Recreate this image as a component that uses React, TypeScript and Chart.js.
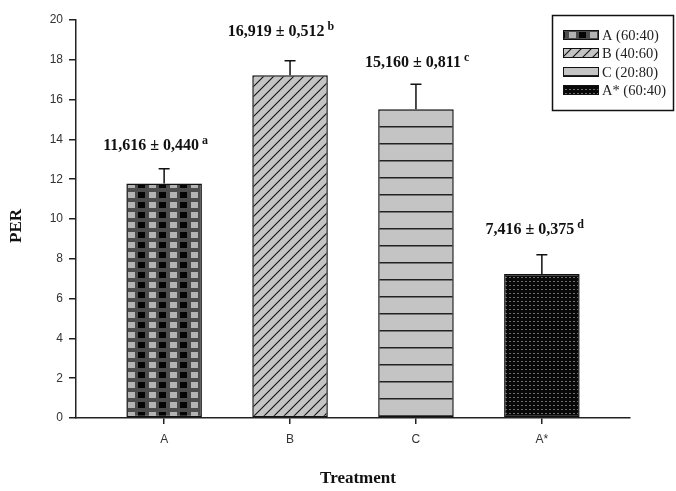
import React, { useEffect, useRef } from 'react';
import { Chart, registerables } from 'chart.js';

Chart.register(...registerables);

// ---- data ----
const categories = ['A', 'B', 'C', 'A*'];
const legendLabels = ['A (60:40)', 'B (40:60)', 'C (20:80)', 'A* (60:40)'];
const perValues = [11.79, 17.22, 15.51, 7.24];
const perErrors = [0.74, 0.73, 1.26, 0.96];
const meanTexts = ['11,616', '16,919', '15,160', '7,416'];
const sdTexts = ['0,440', '0,512', '0,811', '0,375'];
const groupLetters = ['a', 'b', 'c', 'd'];
const yTickStep = 2;
const yMin = 0;
const yMax = 20;

// ---- layout tweaks for the annotation labels (dx from bar centre, lift above error cap) ----
const labelNudge: [number, number][] = [[-13, 19], [-14, 25], [-3, 17], [-12, 21]];

function makePattern(kind: string): CanvasPattern | string {
  const c = document.createElement('canvas');
  const g = c.getContext('2d')!;
  if (kind === 'checker') {
    c.width = 21; c.height = 10;
    g.fillStyle = '#4c4c4c'; g.fillRect(0, 0, 21, 10);
    g.fillStyle = '#b4b4b4'; g.fillRect(2, 2, 7, 6);
    g.fillStyle = '#050505'; g.fillRect(12, 2, 7, 6);
  } else if (kind === 'diag') {
    c.width = 10; c.height = 10;
    g.fillStyle = '#c4c4c4'; g.fillRect(0, 0, 10, 10);
    g.strokeStyle = '#111'; g.lineWidth = 1.1;
    g.beginPath();
    g.moveTo(-1, 11); g.lineTo(11, -1);
    g.moveTo(-6, 6); g.lineTo(6, -6);
    g.moveTo(4, 16); g.lineTo(16, 4);
    g.stroke();
  } else if (kind === 'hlines') {
    c.width = 4; c.height = 17;
    g.fillStyle = '#c4c4c4'; g.fillRect(0, 0, 4, 17);
    g.fillStyle = '#222'; g.fillRect(0, 7, 4, 1.5);
  } else {
    c.width = 4; c.height = 4;
    g.fillStyle = '#080808'; g.fillRect(0, 0, 4, 4);
    g.fillStyle = '#6e6e6e'; g.fillRect(1, 1, 2, 1);
  }
  return g.createPattern(c, 'repeat') || '#888';
}

const overlayPlugin = {
  id: 'overlay',
  afterDatasetsDraw(chart: any) {
    const ctx = chart.ctx as CanvasRenderingContext2D;
    const meta = chart.getDatasetMeta(0);
    const yScale = chart.scales.y;
    ctx.save();
    meta.data.forEach((bar: any, i: number) => {
      const x = bar.x;
      const top = bar.y;
      const capY = yScale.getPixelForValue(perValues[i] + perErrors[i]);
      ctx.strokeStyle = '#111';
      ctx.lineWidth = 1.5;
      ctx.beginPath();
      ctx.moveTo(x, top);
      ctx.lineTo(x, capY);
      ctx.moveTo(x - 5.5, capY);
      ctx.lineTo(x + 5.5, capY);
      ctx.stroke();

      // annotation label
      const [dx, lift] = labelNudge[i];
      const baseY = capY - lift;
      const main = `${meanTexts[i]} \u00b1 ${sdTexts[i]}`;
      ctx.font = 'bold 16px "Liberation Serif"';
      ctx.fillStyle = '#111';
      ctx.textBaseline = 'alphabetic';
      ctx.textAlign = 'left';
      const w = ctx.measureText(main).width;
      const left = x + dx - w / 2;
      ctx.fillText(main, left, baseY);
      ctx.font = 'bold 12px "Liberation Serif"';
      ctx.fillText(groupLetters[i], left + w + 3, baseY - 6);
    });
    ctx.restore();
  },
  afterDraw(chart: any) {
    const ctx = chart.ctx as CanvasRenderingContext2D;
    const patterns = chart.data.datasets[0].backgroundColor;
    ctx.save();
    // axis titles
    ctx.fillStyle = '#111';
    ctx.font = 'bold 17px "Liberation Serif"';
    ctx.textAlign = 'center';
    ctx.textBaseline = 'middle';
    ctx.fillText('Treatment', 358, 479);
    ctx.translate(17, 226);
    ctx.rotate(-Math.PI / 2);
    ctx.fillText('PER', 0, 0);
    ctx.setTransform(chart.currentDevicePixelRatio, 0, 0, chart.currentDevicePixelRatio, 0, 0);

    // legend
    const bx = 552.5, by = 15.5, bw = 121, bh = 95;
    ctx.strokeStyle = '#111';
    ctx.lineWidth = 1.5;
    ctx.strokeRect(bx, by, bw, bh);
    ctx.font = '14.5px "Liberation Serif"';
    ctx.textAlign = 'left';
    ctx.textBaseline = 'middle';
    const rows = [35, 53, 72, 90];
    legendLabels.forEach((lab, i) => {
      const ry = rows[i];
      ctx.fillStyle = patterns[i];
      ctx.fillRect(563, ry - 5, 36, 10);
      ctx.lineWidth = 1;
      ctx.strokeRect(563.5, ry - 4.5, 35, 9);
      ctx.fillStyle = '#222';
      ctx.fillText(lab, 602, ry + 1);
    });
    ctx.restore();
  },
};

export default function App() {
  const ref = useRef<HTMLCanvasElement | null>(null);
  useEffect(() => {
    if (!ref.current) return;
    const patterns = [makePattern('checker'), makePattern('diag'), makePattern('hlines'), makePattern('dots')];
    const tickFont = { family: '"Liberation Sans", Arial, sans-serif', size: 12 };
    const chart = new Chart(ref.current, {
      type: 'bar',
      data: {
        datasets: [
          {
            label: 'PER',
            data: categories.map((_, i) => ({ x: i, y: perValues[i] })) as any,
            backgroundColor: patterns as any,
            borderColor: '#111',
            borderWidth: 1.5,
            borderSkipped: false,
            barPercentage: 0.6,
            categoryPercentage: 1,
          },
        ],
      },
      options: {
        responsive: false,
        animation: false,
        layout: { padding: { top: 20, right: 46, left: 0, bottom: 0 } },
        plugins: { legend: { display: false }, tooltip: { enabled: false } },
        scales: {
          x: {
            type: 'linear',
            min: -0.7,
            max: 3.7,
            offset: false,
            afterBuildTicks: (s: any) => {
              s.ticks = categories.map((_, i) => ({ value: i }));
            },
            afterFit: (s: any) => {
              s.height = 73;
            },
            ticks: {
              callback: (v: any) => categories[v] ?? '',
              font: tickFont,
              color: '#333',
              padding: 8,
              autoSkip: false,
              maxRotation: 0,
            },
            grid: { drawOnChartArea: false, drawTicks: true, tickLength: 6, color: '#222', lineWidth: 1.5, offset: false },
            border: { display: true, color: '#222', width: 1.5 },
          },
          y: {
            min: yMin,
            max: yMax,
            afterFit: (s: any) => {
              s.width = 76;
            },
            ticks: { stepSize: yTickStep, font: tickFont, color: '#333', padding: 6 },
            grid: { drawOnChartArea: false, drawTicks: true, tickLength: 7, color: '#222', lineWidth: 1.5 },
            border: { display: true, color: '#222', width: 1.5 },
          },
        },
      } as any,
      plugins: [overlayPlugin],
    });
    return () => chart.destroy();
  }, []);
  return (
    <div style={{ position: 'fixed', left: 0, top: 0, width: 676, height: 491, background: '#fff' }}>
      <canvas ref={ref} width={676} height={491} />
    </div>
  );
}
